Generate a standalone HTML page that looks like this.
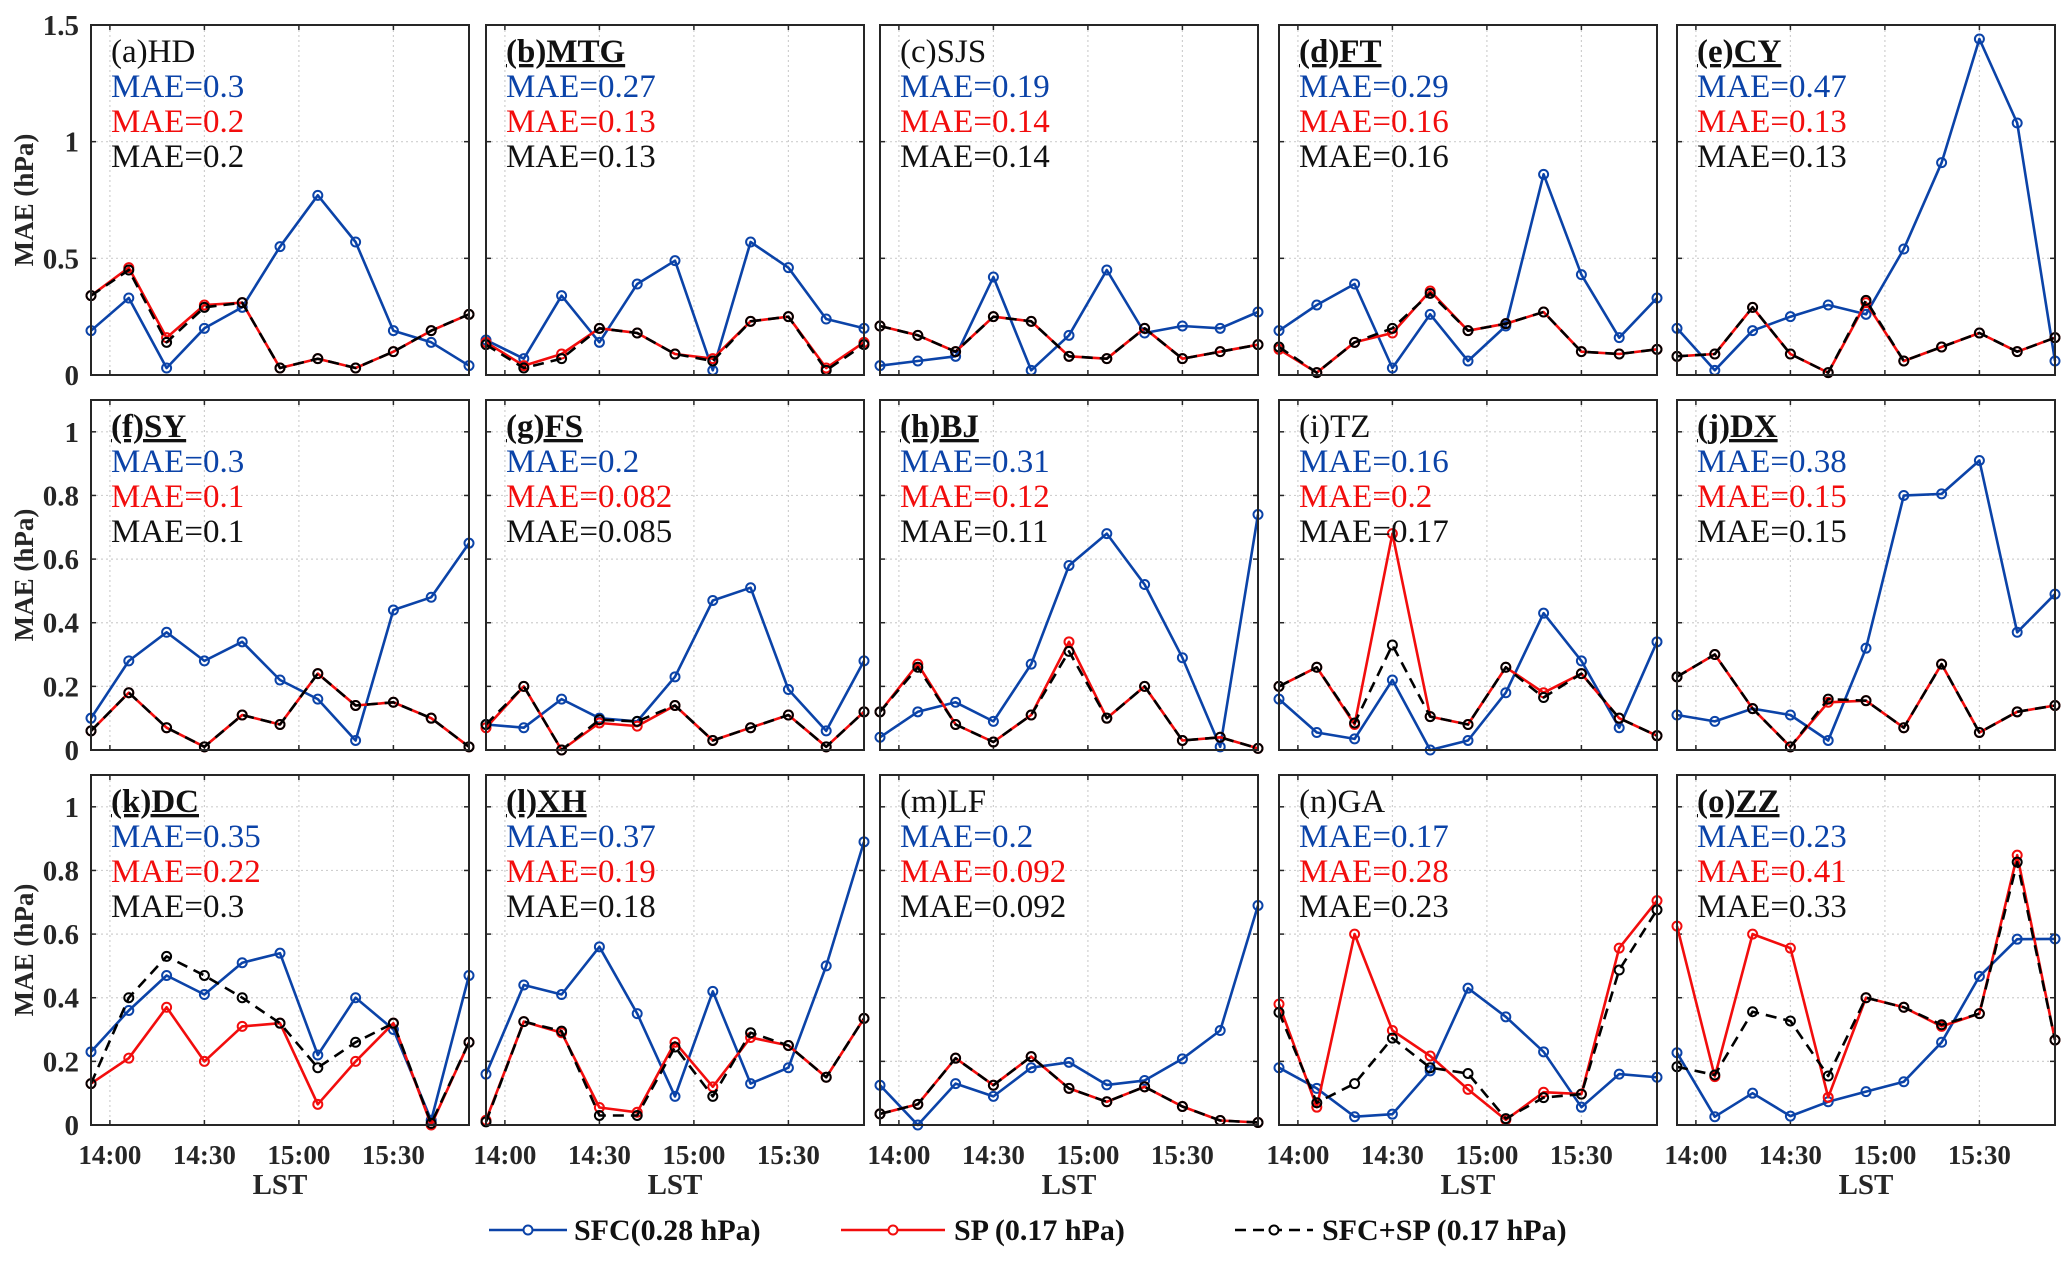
<!DOCTYPE html>
<html><head><meta charset="utf-8">
<style>
html,body{margin:0;padding:0;background:#fff;}
svg{display:block;font-family:"Liberation Serif",serif;}
</style></head>
<body>
<svg id="chart" width="2067" height="1263" viewBox="0 0 2067 1263" xmlns="http://www.w3.org/2000/svg"></svg>
<script>
const times = [834,846,858,870,882,894,906,918,930,942,954];
const xTickValues = [840,870,900,930];
const xTickLabels = ["14:00","14:30","15:00","15:30"];
const row1Ticks = [0,0.5,1,1.5];
const row1TickLabels = ["0","0.5","1","1.5"];
const rowTicks = [0,0.2,0.4,0.6,0.8,1];
const rowTickLabels = ["0","0.2","0.4","0.6","0.8","1"];
const rowYMax = [1.5,1.1,1.1];
const panelTitles = ["(a)HD","(b)MTG","(c)SJS","(d)FT","(e)CY","(f)SY","(g)FS","(h)BJ","(i)TZ","(j)DX","(k)DC","(l)XH","(m)LF","(n)GA","(o)ZZ"];
const panelBold = [false,true,false,true,true,true,true,true,false,true,true,true,false,false,true];
const maeSFC = ["0.3","0.27","0.19","0.29","0.47","0.3","0.2","0.31","0.16","0.38","0.35","0.37","0.2","0.17","0.23"];
const maeSP = ["0.2","0.13","0.14","0.16","0.13","0.1","0.082","0.12","0.2","0.15","0.22","0.19","0.092","0.28","0.41"];
const maeBoth = ["0.2","0.13","0.14","0.16","0.13","0.1","0.085","0.11","0.17","0.15","0.3","0.18","0.092","0.23","0.33"];
const sfcValues = [
 [0.19,0.33,0.03,0.2,0.29,0.55,0.77,0.57,0.19,0.14,0.04],
 [0.15,0.07,0.34,0.14,0.39,0.49,0.02,0.57,0.46,0.24,0.2],
 [0.04,0.06,0.08,0.42,0.02,0.17,0.45,0.18,0.21,0.2,0.27],
 [0.19,0.3,0.39,0.03,0.26,0.06,0.21,0.86,0.43,0.16,0.33],
 [0.2,0.02,0.19,0.25,0.3,0.26,0.54,0.91,1.44,1.08,0.06],
 [0.1,0.28,0.37,0.28,0.34,0.22,0.16,0.03,0.44,0.48,0.65],
 [0.08,0.07,0.16,0.1,0.09,0.23,0.47,0.51,0.19,0.06,0.28],
 [0.04,0.12,0.15,0.09,0.27,0.58,0.68,0.52,0.29,0.01,0.74],
 [0.16,0.055,0.035,0.22,0.0,0.03,0.18,0.43,0.28,0.07,0.34],
 [0.11,0.09,0.13,0.11,0.03,0.32,0.8,0.805,0.91,0.37,0.49],
 [0.23,0.36,0.47,0.41,0.51,0.54,0.22,0.4,0.3,0.015,0.47],
 [0.16,0.44,0.41,0.56,0.35,0.09,0.42,0.13,0.18,0.5,0.89],
 [0.125,0.0,0.13,0.09,0.18,0.197,0.126,0.14,0.208,0.297,0.69],
 [0.18,0.115,0.026,0.034,0.17,0.43,0.34,0.23,0.056,0.16,0.15],
 [0.227,0.026,0.1,0.028,0.073,0.105,0.136,0.26,0.467,0.584,0.585]
];
const spValues = [
 [0.34,0.46,0.16,0.3,0.31,0.03,0.07,0.03,0.1,0.19,0.26],
 [0.14,0.04,0.09,0.2,0.18,0.09,0.07,0.23,0.25,0.03,0.14],
 [0.21,0.17,0.1,0.25,0.23,0.08,0.07,0.2,0.07,0.1,0.13],
 [0.11,0.01,0.14,0.18,0.36,0.19,0.22,0.27,0.1,0.09,0.11],
 [0.08,0.09,0.29,0.09,0.01,0.31,0.06,0.12,0.18,0.1,0.16],
 [0.06,0.18,0.07,0.01,0.11,0.08,0.24,0.14,0.15,0.1,0.01],
 [0.07,0.2,0.0,0.085,0.075,0.14,0.03,0.07,0.11,0.01,0.12],
 [0.12,0.27,0.08,0.025,0.11,0.34,0.1,0.2,0.03,0.04,0.005],
 [0.2,0.26,0.08,0.68,0.105,0.08,0.26,0.18,0.24,0.1,0.045],
 [0.23,0.3,0.13,0.01,0.15,0.155,0.07,0.27,0.055,0.12,0.14],
 [0.13,0.21,0.37,0.2,0.31,0.32,0.065,0.2,0.32,0.0,0.26],
 [0.015,0.325,0.29,0.055,0.04,0.26,0.12,0.275,0.25,0.15,0.335],
 [0.035,0.065,0.21,0.125,0.215,0.115,0.073,0.12,0.058,0.014,0.008],
 [0.38,0.056,0.6,0.297,0.217,0.112,0.016,0.103,0.097,0.556,0.705],
 [0.625,0.152,0.6,0.556,0.087,0.4,0.37,0.31,0.35,0.848,0.267]
];
const bothValues = [
 [0.34,0.45,0.14,0.29,0.31,0.03,0.07,0.03,0.1,0.19,0.26],
 [0.13,0.03,0.07,0.2,0.18,0.09,0.06,0.23,0.25,0.02,0.13],
 [0.21,0.17,0.1,0.25,0.23,0.08,0.07,0.2,0.07,0.1,0.13],
 [0.12,0.01,0.14,0.2,0.35,0.19,0.22,0.27,0.1,0.09,0.11],
 [0.08,0.09,0.29,0.09,0.01,0.32,0.06,0.12,0.18,0.1,0.16],
 [0.06,0.18,0.07,0.01,0.11,0.08,0.24,0.14,0.15,0.1,0.01],
 [0.08,0.2,0.0,0.095,0.09,0.14,0.03,0.07,0.11,0.01,0.12],
 [0.12,0.26,0.08,0.025,0.11,0.31,0.1,0.2,0.03,0.04,0.005],
 [0.2,0.26,0.085,0.33,0.105,0.08,0.26,0.165,0.24,0.1,0.045],
 [0.23,0.3,0.13,0.01,0.16,0.155,0.07,0.27,0.055,0.12,0.14],
 [0.13,0.4,0.53,0.47,0.4,0.32,0.18,0.26,0.32,0.005,0.26],
 [0.01,0.325,0.295,0.03,0.03,0.245,0.09,0.29,0.25,0.15,0.335],
 [0.035,0.065,0.21,0.125,0.215,0.115,0.073,0.12,0.058,0.014,0.008],
 [0.354,0.07,0.13,0.273,0.18,0.162,0.02,0.086,0.097,0.487,0.676],
 [0.183,0.157,0.356,0.327,0.154,0.4,0.37,0.315,0.35,0.826,0.267]
];
const legendLabels = ["SFC(0.28 hPa)","SP (0.17 hPa)","SFC+SP (0.17 hPa)"];

const NS = "http://www.w3.org/2000/svg";
const svg = document.getElementById("chart");
const colLeft = [91,486,880,1279,1677];
const rowTop = [25,400,775];
const PW = 378, PH = 350;
const BLUE = "#0b43a8", RED = "#f20d0d", BLACK = "#000";

function mk(tag, attrs, parent){
  const e = document.createElementNS(NS, tag);
  for (const k in attrs) e.setAttribute(k, attrs[k]);
  (parent||svg).appendChild(e);
  return e;
}
function xScale(t, left){ return left + (t - times[0]) / (times[times.length-1] - times[0]) * PW; }
function yScale(v, top, ymax){ return top + PH - v / ymax * PH; }

for (let p = 0; p < 15; p++) {
  const r = Math.floor(p/5), c = p % 5;
  const L = colLeft[c], T = rowTop[r], ymax = rowYMax[r];
  const g = mk("g", {});
  
  
  const yt = r === 0 ? row1Ticks : rowTicks;
  const ytl = r === 0 ? row1TickLabels : rowTickLabels;
  xTickValues.forEach(t => {
    const x = xScale(t, L);
    const gl = mk("line", {x1:x, y1:T, x2:x, y2:T+PH, stroke:"#cfcfcf", "stroke-width":1.2, "stroke-dasharray":"2,3"}, g);
    
    
    mk("line", {x1:x, y1:T+PH, x2:x, y2:T+PH-5, stroke:"#262626", "stroke-width":1.5}, g);
    mk("line", {x1:x, y1:T, x2:x, y2:T+5, stroke:"#262626", "stroke-width":1.5}, g);
  });
  yt.forEach((v,i) => {
    const y = yScale(v, T, ymax);
    if (v > 0) {
      const gl = mk("line", {x1:L, y1:y, x2:L+PW, y2:y, stroke:"#cfcfcf", "stroke-width":1.2, "stroke-dasharray":"2,3"}, g);
      
      
    }
    mk("line", {x1:L, y1:y, x2:L+5, y2:y, stroke:"#262626", "stroke-width":1.5}, g);
    mk("line", {x1:L+PW, y1:y, x2:L+PW-5, y2:y, stroke:"#262626", "stroke-width":1.5}, g);
    if (c === 0) {
      const tl = mk("text", {x:L-12, y:y+10, "text-anchor":"end", "font-size":29, "font-weight":"bold", fill:"#262626"}, g);
      tl.textContent = ytl[i];
      
      
    }
  });
  if (r === 2) {
    xTickValues.forEach((t,i) => {
      const tl = mk("text", {x:xScale(t, L), y:T+PH+39, "text-anchor":"middle", "font-size":27, "font-weight":"bold", fill:"#262626"}, g);
      tl.textContent = xTickLabels[i];
      
      
    });
    const xt = mk("text", {x:L+PW/2, y:T+PH+69, "text-anchor":"middle", "font-size":29, "font-weight":"bold", fill:"#262626"}, g);
    xt.textContent = "LST";
    
    
  }
  if (c === 0) {
    const yt2 = mk("text", {x:0, y:0, transform:"translate(33,"+(T+PH/2)+") rotate(-90)", "text-anchor":"middle", "font-size":27, "font-weight":"bold", fill:"#262626"}, g);
    yt2.textContent = "MAE (hPa)";
    
    
  }
  const series = [
    {vals: sfcValues[p], color: BLUE, dash: null, name: "sfc-line"},
    {vals: spValues[p], color: RED, dash: null, name: "sp-line"},
    {vals: bothValues[p], color: BLACK, dash: "11,7", name: "sfc-sp-line"}
  ];
  series.forEach(s => {
    const pts = s.vals.map((v,i) => xScale(times[i], L).toFixed(1) + "," + yScale(v, T, ymax).toFixed(1)).join(" ");
    const attrs = {points:pts, fill:"none", stroke:s.color, "stroke-width":2.6, "stroke-linejoin":"round"};
    if (s.dash) attrs["stroke-dasharray"] = s.dash;
    const pl = mk("polyline", attrs, g);
    
    
    s.vals.forEach((v,i) => {
      const m = mk("circle", {cx:xScale(times[i], L), cy:yScale(v, T, ymax), r:4.5, fill:"none", stroke:s.color, "stroke-width":2}, g);
      
      
    });
  });
  const fr = mk("rect", {x:L, y:T, width:PW, height:PH, fill:"none", stroke:"#262626", "stroke-width":2}, g);
  
  
  const tx = L + 20;
  const t1 = mk("text", {x:tx, y:T+37, "font-size":33, fill:"#111", "font-weight": panelBold[p] ? "bold" : "normal", "text-decoration": panelBold[p] ? "underline" : "none"}, g);
  t1.textContent = panelTitles[p];
  
  
  const lines = [["MAE="+maeSFC[p], BLUE, "mae-sfc-label"],["MAE="+maeSP[p], RED, "mae-sp-label"],["MAE="+maeBoth[p], "#111", "mae-sfc-sp-label"]];
  lines.forEach((ln,i) => {
    const t = mk("text", {x:tx, y:T+72+i*35, "font-size":33, fill:ln[1]}, g);
    t.textContent = ln[0];
    
    
  });
}

const lg = mk("g", {});


const legendX = [489, 841, 1235];
const legendLen = [78, 104, 78];
const legendTextX = [574, 954, 1322];
const legendColors = [BLUE, RED, BLACK];
const legendDash = [null, null, "11,7"];
legendLabels.forEach((lab,i) => {
  const e = mk("g", {}, lg);
  
  
  const x0 = legendX[i], y0 = 1230;
  const a = {x1:x0, y1:y0, x2:x0+legendLen[i], y2:y0, stroke:legendColors[i], "stroke-width":2.6};
  if (legendDash[i]) a["stroke-dasharray"] = legendDash[i];
  mk("line", a, e);
  mk("circle", {cx:x0+legendLen[i]/2, cy:y0, r:4.5, fill:"#fff", stroke:legendColors[i], "stroke-width":2}, e);
  const t = mk("text", {x:legendTextX[i], y:y0+10, "font-size":30, "font-weight":"bold", fill:"#111"}, e);
  t.textContent = lab;
});
</script>
</body></html>
